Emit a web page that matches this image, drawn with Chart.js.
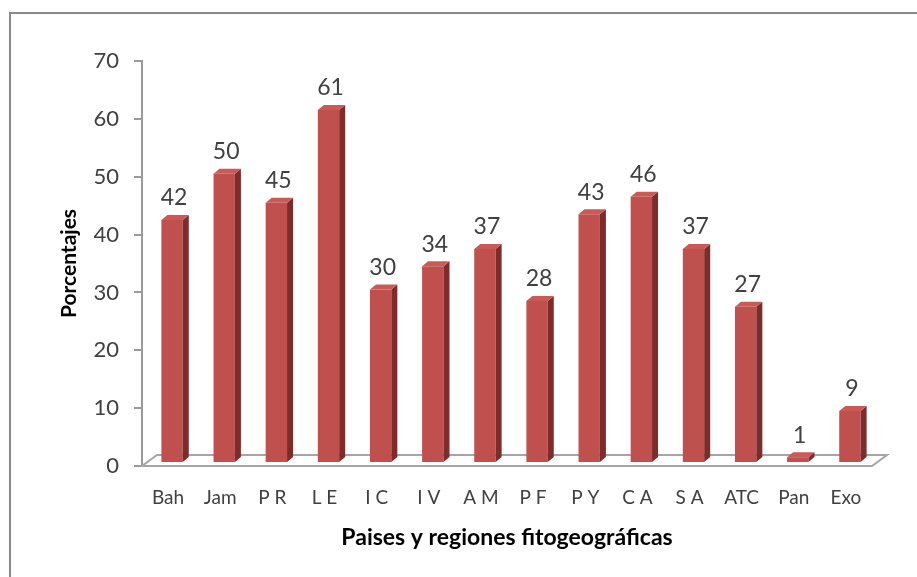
<!DOCTYPE html>
<html>
<head>
<meta charset="utf-8">
<script src="https://cdn.jsdelivr.net/npm/chart.js@4.4.1/dist/chart.umd.min.js"></script>
<style>
  html, body { margin: 0; padding: 0; background: #ffffff; }
  #wrap { position: relative; width: 917px; height: 577px; overflow: hidden; }
  #frame { position: absolute; left: 9px; top: 12px; width: 950px; height: 600px;
           border-left: 2px solid #8a8a8a; border-top: 2px solid #8a8a8a; }
  canvas { position: absolute; left: 0; top: 0; }
</style>
</head>
<body>
<div id="wrap">
  <div id="frame"></div>
  <canvas id="chart" width="917" height="577"></canvas>
</div>
<script>
const categories = ['Bah', 'Jam', 'P R', 'L E', 'I C', 'I V', 'A M', 'P F', 'P Y', 'C A', 'S A', 'ATC', 'Pan', 'Exo'];
const percentages = [42, 50, 45, 61, 30, 34, 37, 28, 43, 46, 37, 27, 1, 9];
const yTitle = 'Porcentajes';
const xTitle = 'Paises y regiones fitogeográficas';

Chart.defaults.font.family = 'Lato';
Chart.defaults.color = '#404040';

// depth of the fake 3D look
const SHIFT_X = 4, SHIFT_Y = -3;
const BAR_DX = 6, BAR_DY = -5;
const FLOOR_DX = 15, FLOOR_DY = -11;

const bars3d = {
  id: 'bars3d',
  beforeDatasetsDraw(chart) {
    const ctx = chart.ctx;
    const a = chart.chartArea;
    // floor
    ctx.save();
    ctx.strokeStyle = '#a6a6a6';
    ctx.lineWidth = 2;
    ctx.fillStyle = '#ffffff';
    ctx.beginPath();
    ctx.moveTo(a.left, a.bottom);
    ctx.lineTo(a.right, a.bottom);
    ctx.lineTo(a.right + FLOOR_DX, a.bottom + FLOOR_DY);
    ctx.lineTo(a.left + FLOOR_DX, a.bottom + FLOOR_DY);
    ctx.closePath();
    ctx.fill();
    ctx.stroke();
    ctx.restore();
    // shift the bars to the middle of the floor depth
    ctx.save();
    ctx.translate(SHIFT_X, SHIFT_Y);
  },
  afterDatasetsDraw(chart) {
    const ctx = chart.ctx;
    const meta = chart.getDatasetMeta(0).data;
    meta.forEach((bar, i) => {
      const l = bar.x - bar.width / 2, r = bar.x + bar.width / 2;
      const top = bar.y, base = bar.base;
      // side
      ctx.fillStyle = '#7e2b29';
      ctx.beginPath();
      ctx.moveTo(r, top);
      ctx.lineTo(r + BAR_DX, top + BAR_DY);
      ctx.lineTo(r + BAR_DX, base + BAR_DY);
      ctx.lineTo(r, base);
      ctx.closePath();
      ctx.fill();
      // top
      ctx.fillStyle = '#c95a57';
      ctx.beginPath();
      ctx.moveTo(l, top);
      ctx.lineTo(l + BAR_DX, top + BAR_DY);
      ctx.lineTo(r + BAR_DX, top + BAR_DY);
      ctx.lineTo(r, top);
      ctx.closePath();
      ctx.fill();
      // value label
      ctx.fillStyle = '#404040';
      ctx.font = '23px Lato';
      ctx.textAlign = 'center';
      ctx.textBaseline = 'middle';
      ctx.fillText(String(percentages[i]), bar.x + 2, top - 22);
    });
    ctx.restore();
  }
};

new Chart(document.getElementById('chart'), {
  type: 'bar',
  data: {
    labels: categories,
    datasets: [{
      data: percentages,
      backgroundColor: '#c0504d',
      barPercentage: 0.41,
      categoryPercentage: 1,
      clip: false
    }]
  },
  options: {
    responsive: false,
    animation: false,
    layout: { padding: { left: 45, right: 45, top: 61, bottom: 20 } },
    plugins: {
      legend: { display: false },
      tooltip: { enabled: false }
    },
    scales: {
      x: {
        grid: { display: false, drawTicks: false },
        border: { display: false },
        ticks: { font: { size: 19 }, padding: 20, maxRotation: 0, autoSkip: false },
        title: {
          display: true, text: xTitle, color: '#000000',
          font: { size: 23, weight: 'bold' }, padding: { top: 0, bottom: 6 }
        },
        afterFit(scale) { scale.height = 91; }
      },
      y: {
        min: 0, max: 70,
        ticks: { stepSize: 10, font: { size: 22 }, padding: 15 },
        grid: { drawOnChartArea: false, drawTicks: true, tickLength: 8, color: '#9a9a9a', lineWidth: 2 },
        border: { display: true, color: '#9a9a9a', width: 2 },
        title: {
          display: true, text: yTitle, color: '#000000',
          font: { size: 21, weight: 'bold' }, padding: { top: 12, bottom: 0 }
        },
        afterFit(scale) { scale.width = 97; }
      }
    }
  },
  plugins: [bars3d]
});
</script>
</body>
</html>
